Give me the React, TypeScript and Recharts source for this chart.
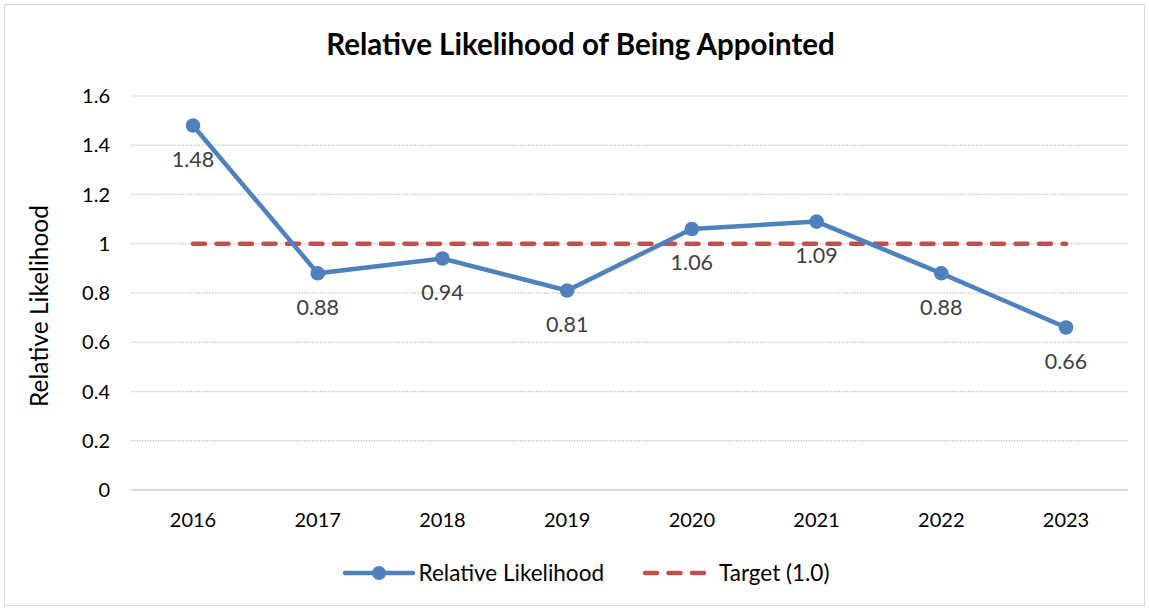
import { LineChart, Line, XAxis, YAxis, CartesianGrid, Legend, LabelList } from "recharts";

const years = ["2016", "2017", "2018", "2019", "2020", "2021", "2022", "2023"];
const likelihood = [1.48, 0.88, 0.94, 0.81, 1.06, 1.09, 0.88, 0.66];
const target = [1, 1, 1, 1, 1, 1, 1, 1];
const yTicks = [0, 0.2, 0.4, 0.6, 0.8, 1, 1.2, 1.4, 1.6];

const data = years.map((year, i) => ({
  year,
  likelihood: likelihood[i],
  target: target[i],
}));

const FONT = "Lato, 'Open Sans', sans-serif";
const BLUE = "#4f81bd";
const RED = "#c0504d";

function LegendContent() {
  return (
    <div
      style={{
        display: "flex",
        justifyContent: "center",
        alignItems: "center",
        fontFamily: FONT,
        fontSize: 22.5,
        color: "#000",
      }}
    >
      <svg width={72} height={20} style={{ marginRight: 4 }}>
        <line x1={2} y1={10} x2={70} y2={10} stroke={BLUE} strokeWidth={4.5} strokeLinecap="round" />
        <circle cx={36} cy={10} r={7} fill={BLUE} />
      </svg>
      <span style={{ marginRight: 37 }}>Relative Likelihood</span>
      <svg width={70} height={20} style={{ marginRight: 8 }}>
        <line
          x1={4}
          y1={10}
          x2={66}
          y2={10}
          stroke={RED}
          strokeWidth={4.5}
          strokeDasharray="12 11.5"
          strokeLinecap="round"
        />
      </svg>
      <span>Target (1.0)</span>
    </div>
  );
}

export default function App() {
  return (
    <div
      style={{
        position: "absolute",
        left: 0,
        top: 0,
        width: 1149,
        height: 611,
        background: "#fff",
      }}
    >
      <div
        style={{
          position: "absolute",
          left: 4,
          top: 4,
          width: 1139,
          height: 600,
          border: "1.5px solid #d9d9d9",
        }}
      />
      <div
        style={{
          position: "absolute",
          top: 26,
          left: 0,
          width: 1161,
          textAlign: "center",
          fontFamily: FONT,
          fontWeight: 700,
          fontSize: 29.5,
          lineHeight: "36px",
          color: "#000",
        }}
      >
        Relative Likelihood of Being Appointed
      </div>
      <LineChart
        width={1149}
        height={611}
        data={data}
        margin={{ top: 96, right: 21, left: 0, bottom: 91 }}
        style={{ position: "absolute", left: 0, top: 0 }}
      >
        <CartesianGrid
          vertical={false}
          stroke="#d0d0d0"
          strokeDasharray="1.6 1.1"
          strokeWidth={1.3}
        />
        <XAxis
          dataKey="year"
          padding={{ left: 62, right: 62 }}
          tickLine={false}
          axisLine={{ stroke: "#d9d9d9", strokeWidth: 1.5 }}
          tick={{ fontSize: 20, fill: "#000", fontFamily: FONT }}
          tickMargin={17}
          interval={0}
        />
        <YAxis
          width={131}
          domain={[0, 1.6]}
          ticks={yTicks}
          tickLine={false}
          axisLine={false}
          tick={{ fontSize: 20, fill: "#000", fontFamily: FONT }}
          tickMargin={15}
          label={{
            content: () => (
              <text
                x={48}
                y={306}
                transform="rotate(-90 48 306)"
                textAnchor="middle"
                fontFamily={FONT}
                fontSize={24.5}
                fill="#000"
              >
                Relative Likelihood
              </text>
            ),
          }}
        />
        <Legend
          verticalAlign="middle"
          layout="horizontal"
          content={<LegendContent />}
          wrapperStyle={{ top: 559, left: 0, width: 1172 }}
        />
        <Line
          dataKey="target"
          name="Target (1.0)"
          stroke={RED}
          strokeWidth={4.5}
          strokeDasharray="12 11.5"
          strokeLinecap="round"
          dot={false}
          activeDot={false}
          isAnimationActive={false}
        />
        <Line
          dataKey="likelihood"
          name="Relative Likelihood"
          stroke={BLUE}
          strokeWidth={4.5}
          dot={{ r: 7.3, fill: BLUE, stroke: BLUE, strokeWidth: 0 }}
          activeDot={false}
          isAnimationActive={false}
        >
          <LabelList
            dataKey="likelihood"
            position="bottom"
            offset={26}
            style={{ fontSize: 21.5, fill: "#404040", fontFamily: FONT }}
          />
        </Line>
      </LineChart>
    </div>
  );
}
